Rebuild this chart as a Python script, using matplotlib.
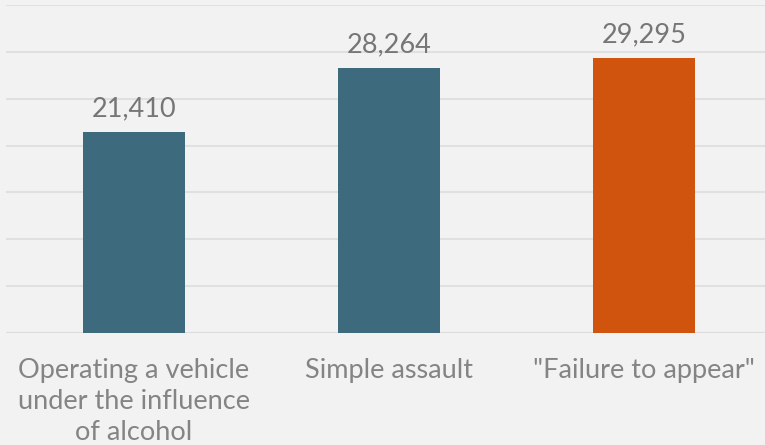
import matplotlib
matplotlib.use("Agg")
import matplotlib.pyplot as plt

categories = ["Operating a vehicle\nunder the influence\nof alcohol", "Simple assault", "\"Failure to appear\""]
values = [21410, 28264, 29295]
colors = ["#3d6b7d", "#3d6b7d", "#d0530e"]

plt.rcParams['font.family'] = ['Lato', 'DejaVu Sans']

fig = plt.figure(figsize=(7.65, 4.45), dpi=100, facecolor="#f2f2f2")
ax = fig.add_axes([6.5/765, 112/445, 765/765, 328/445])
ax.set_facecolor("#f2f2f2")

x = range(len(categories))
bars = ax.bar(x, values, width=0.4, color=colors, zorder=3)
ax.set_xlim(-0.5, 2.5)
ax.set_ylim(0, 35000)
ax.set_yticks(range(0, 35001, 5000))
ax.yaxis.grid(True, color="#e0e0e0", linewidth=1.5, zorder=0)
ax.set_yticklabels([])
ax.tick_params(axis='y', length=0)
for s in ax.spines.values():
    s.set_visible(False)
ax.axhline(0, color="#dcdcdc", linewidth=1.5, zorder=2)

ax.set_xticks(list(x))
ax.set_xticklabels(categories, fontsize=19.5, color="#848484", linespacing=1.3)
ax.tick_params(axis='x', length=0, pad=18)

for b, v in zip(bars, values):
    ax.annotate(f"{v:,}", (b.get_x() + b.get_width()/2, v), xytext=(0, 8),
                textcoords="offset points", ha="center", va="bottom",
                fontsize=19.5, color="#767676")

fig.savefig("out.png", dpi=100, facecolor=fig.get_facecolor())
